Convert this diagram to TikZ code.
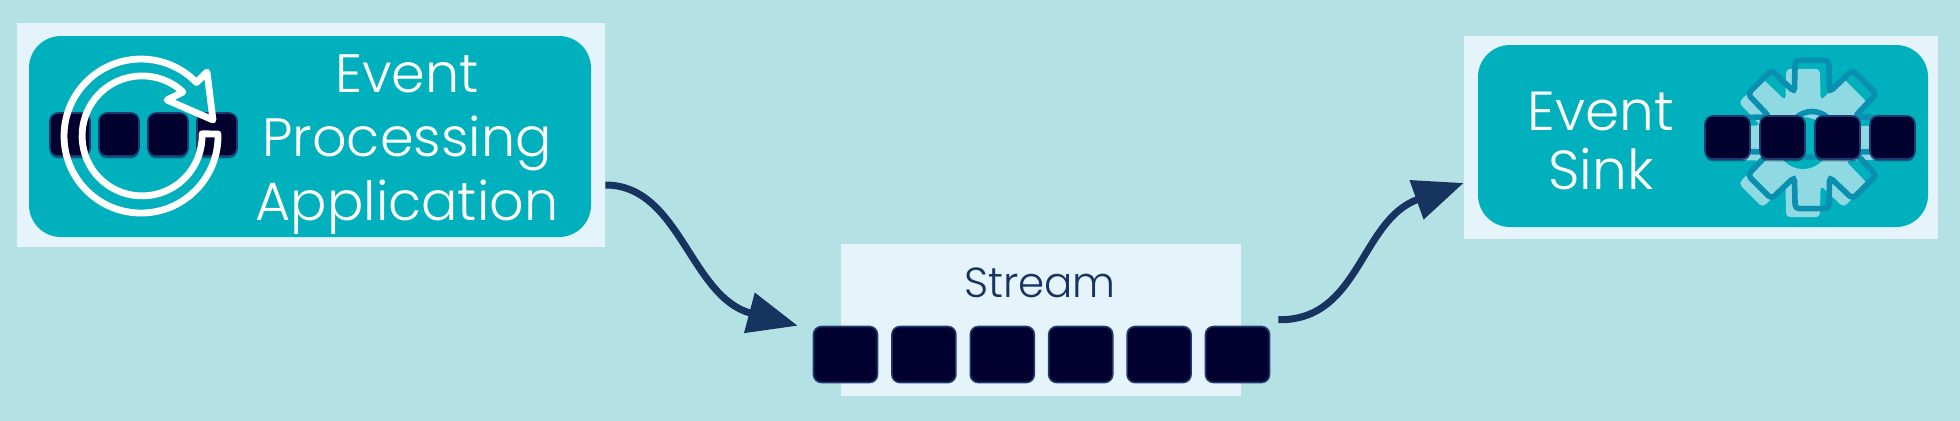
\documentclass[tikz,border=0pt]{standalone}
\usepackage{fontspec}
\setmainfont{Poppins}[UprightFont=* Light]
\usetikzlibrary{arrows.meta,shadows}
\definecolor{bgteal}{HTML}{B4E1E3}
\definecolor{panelblue}{HTML}{E5F4FB}
\definecolor{cardteal}{HTML}{00B0BC}
\definecolor{tilenavy}{HTML}{02002F}
\definecolor{tileedge}{HTML}{1E3A6E}
\definecolor{arrownavy}{HTML}{17335F}
\definecolor{gearfill}{HTML}{8FD9E3}
\definecolor{gearline}{HTML}{0A8FB0}
\begin{document}
\begin{tikzpicture}[
    x=0.5pt, y=-0.5pt,
    panel/.style={rectangle, fill=panelblue, inner sep=0pt},
    card/.style={rectangle, fill=cardteal, rounded corners=16pt, inner sep=0pt},
    tile/.style={rectangle, draw=tileedge, line width=0.8pt, fill=tilenavy, rounded corners=4pt, inner sep=0pt, minimum width=32pt, minimum height=28pt},
    softtile/.style={tile, minimum width=20pt, minimum height=21.5pt, drop shadow={shadow xshift=0pt, shadow yshift=-1.2pt, opacity=0.4, fill=tilenavy}},
    cardtext/.style={text=white, font=\fontsize{27}{32}\selectfont, align=center, inner sep=0pt},
    arrow/.style={-{Triangle[length=25pt, width=20pt]}, line width=3.5pt, draw=arrownavy}
]
    \useasboundingbox (0,0) rectangle (1960,420);
    % Backdrop
    \node [rectangle, fill=bgteal, inner sep=0pt, minimum width=984pt, minimum height=214pt] (backdrop) at (980,210) {};

    % Processing application
    \node [panel, minimum width=294pt, minimum height=112pt] (apppanel) at (311,135) {};
    \node [card, minimum width=281pt, minimum height=100.5pt] (appcard) at (310,136.5) {};
    \node [softtile] (apptile1) at (70,134.5) {};
    \node [softtile, right of=apptile1, node distance=24.5pt] (apptile2) {};
    \node [softtile, right of=apptile2, node distance=24.5pt] (apptile3) {};
    \node [softtile, right of=apptile3, node distance=24.5pt] (apptile4) {};
    \draw [white, line width=3.4pt, line join=round]
        (218,134) arc[start angle=-1.5, end angle=316, radius=77]
        -- (207,72) -- (213,120) -- (167,100) -- (183,92)
        arc[start angle=313, end angle=-2, radius=60] -- cycle;
    \node [cardtext] (applabel) at (407,145) {Event\\Processing\\Application};

    % Stream
    \node [panel, minimum width=200pt, minimum height=76pt] (streampanel) at (1041,320) {};
    \node [text=arrownavy, font=\fontsize{21}{25}\selectfont, inner sep=0pt] (streamlabel) at (1040,283) {Stream};
    \node [tile] (st1) at (845.5,354.5) {};
    \node [tile, right of=st1, node distance=39.2pt] (st2) {};
    \node [tile, right of=st2, node distance=39.2pt] (st3) {};
    \node [tile, right of=st3, node distance=39.2pt] (st4) {};
    \node [tile, right of=st4, node distance=39.2pt] (st5) {};
    \node [tile, right of=st5, node distance=39.2pt] (st6) {};

    % Event sink
    \node [panel, minimum width=237pt, minimum height=101.5pt] (sinkpanel) at (1701,137.5) {};
    \node [card, minimum width=225pt, minimum height=91pt] (sinkcard) at (1703,136) {};
    \fill [gearfill, rounded corners=2pt, shift={(1803,143)}] (-22.5:46)
        \foreach \a in {0,45,...,270} { -- (\a-12.8:76) -- (\a+12.8:76) -- (\a+22.5:46) }
        -- (302.2:76) -- (327.8:76) -- cycle;
    \fill [cardteal] (1803,143) circle (26);
    \draw [gearline, line width=2.8pt, rounded corners=2pt, shift={(1812,134.5)}] (-22.5:46)
        \foreach \a in {0,45,...,270} { -- (\a-12.8:76) -- (\a+12.8:76) -- (\a+22.5:46) }
        -- (302.2:76) -- (327.8:76) -- cycle;
    \draw [gearline, line width=2.8pt] (1812,134.5) circle (23);
    \node [softtile, minimum width=22.5pt] (sinktile1) at (1727.5,137.5) {};
    \node [softtile, minimum width=22.5pt, right of=sinktile1, node distance=27.5pt] (sinktile2) {};
    \node [softtile, minimum width=22.5pt, right of=sinktile2, node distance=27.5pt] (sinktile3) {};
    \node [softtile, minimum width=22.5pt, right of=sinktile3, node distance=27.5pt] (sinktile4) {};
    \node [cardtext, font=\fontsize{27.5}{29.5}\selectfont] (sinklabel) at (1601,141) {Event\\Sink};

    % Connectors
    \draw [arrow] ([yshift=-25pt]apppanel.east) .. controls (680,185) and (690,297) .. ([xshift=-7.5pt]st1.north west);
    \draw [arrow] ([xshift=4pt, yshift=3pt]st6.north east) .. controls (1360,321) and (1360,220) .. ([yshift=-22.75pt]sinkpanel.west);
\end{tikzpicture}
\end{document}
